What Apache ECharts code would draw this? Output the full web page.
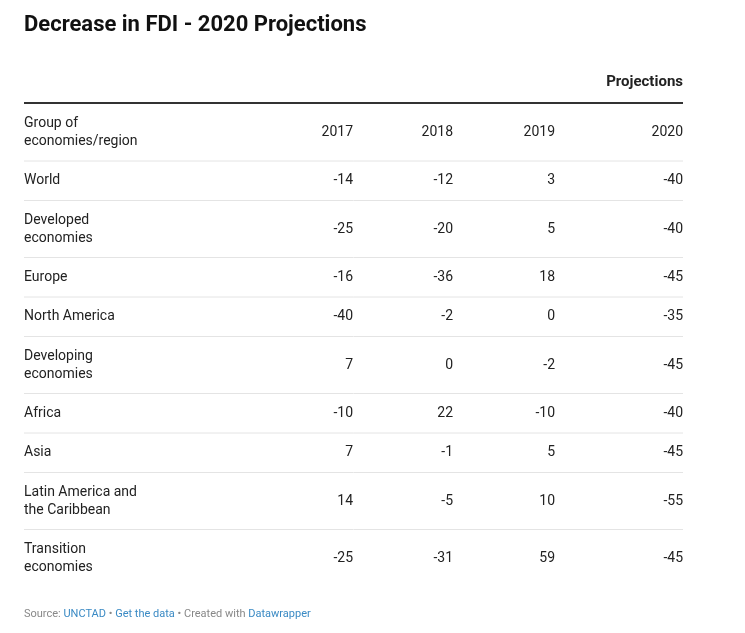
<!DOCTYPE html>
<html><head><meta charset="utf-8">
<script src="https://cdn.jsdelivr.net/npm/echarts@6/dist/echarts.min.js"></script>
<style>html,body{margin:0;padding:0;background:#fff}#c{width:745px;height:633px}</style>
</head><body><div id="c"></div>
<script>
const years = ['2017','2018','2019','2020'];
const regions = ['World','Developed\neconomies','Europe','North America','Developing\neconomies','Africa','Asia','Latin America and\nthe Caribbean','Transition\neconomies'];
const v2017 = [-14,-25,-16,-40,7,-10,7,14,-25];
const v2018 = [-12,-20,-36,-2,0,22,-1,-5,-31];
const v2019 = [3,5,18,0,-2,-10,5,10,59];
const v2020 = [-40,-40,-45,-35,-45,-40,-45,-55,-45];
const cols = [v2017,v2018,v2019,v2020];

const F = 'Roboto, "Noto Sans", sans-serif';
const colX = [353,453,555,683];
const els = [];
els.push({type:'text',left:24,top:14,style:{text:'Decrease in FDI - 2020 Projections',font:'bold 22px '+F,fill:'#111'}});
els.push({type:'text',style:{x:683,y:82,text:'Projections',font:'bold 15px '+F,fill:'#222',align:'right',verticalAlign:'middle'}});
els.push({type:'line',shape:{x1:24,y1:103,x2:683,y2:103},style:{stroke:'#333',lineWidth:2}});
els.push({type:'text',style:{x:24,y:132,text:'Group of\neconomies/region',font:'14px '+F,lineHeight:18,fill:'#222',verticalAlign:'middle'}});
years.forEach((y,i)=>els.push({type:'text',style:{x:colX[i],y:132,text:y,font:'14px '+F,fill:'#222',align:'right',verticalAlign:'middle'}}));
let rowTop = 161;
regions.forEach((r,ri)=>{
  els.push({type:'line',shape:{x1:24,y1:rowTop,x2:683,y2:rowTop},style:{stroke:'#e4e4e4',lineWidth:1}});
  const h = r.includes('\n') ? 57 : 39.5;
  const cy = rowTop + h/2;
  els.push({type:'text',style:{x:24,y:cy,text:r,font:'14px '+F,lineHeight:18,fill:'#222',verticalAlign:'middle'}});
  cols.forEach((c,ci)=>els.push({type:'text',style:{x:colX[ci],y:cy,text:String(c[ri]),font:'14px '+F,fill:'#222',align:'right',verticalAlign:'middle'}}));
  rowTop += h;
});
els.push({type:'text',style:{x:24,y:614,font:'11px '+F,verticalAlign:'middle',
  text:'{g|Source: }{b|UNCTAD}{g| • }{b|Get the data}{g| • Created with }{b|Datawrapper}',
  rich:{g:{fill:'#888',font:'11px '+F},b:{fill:'#3a8ac4',font:'11px '+F}}}});
const chart = echarts.init(document.getElementById('c'));
chart.setOption({graphic:{elements:els}});
</script></body></html>
